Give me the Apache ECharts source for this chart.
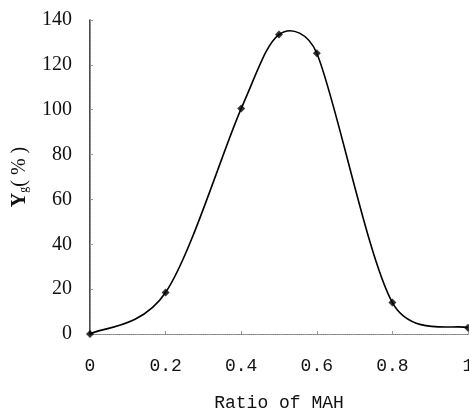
<!DOCTYPE html>
<html>
<head>
<meta charset="utf-8">
<script src="https://cdn.jsdelivr.net/npm/echarts@6/dist/echarts.min.js"></script>
<style>
  html, body { margin: 0; padding: 0; background: #fff; }
  #chart { width: 469px; height: 412px; }
</style>
</head>
<body>
<div id="chart"></div>
<script>
// ratio of MAH vs Yg (%)
var ratios = [0, 0.2, 0.4, 0.5, 0.6, 0.8, 1];
var yieldG = [0, 18.5, 100.5, 133.5, 125.2, 14, 2.8];
var yTicks = [0, 20, 40, 60, 80, 100, 120, 140];

var chart = echarts.init(document.getElementById('chart'));

var points = ratios.map(function (r, i) { return [r, yieldG[i]]; });
// one segment per pair of neighbouring points
var segments = points.slice(0, -1);

function dist(a, b) {
    return Math.sqrt((a[0] - b[0]) * (a[0] - b[0]) + (a[1] - b[1]) * (a[1] - b[1]));
}

// smoothed line like the spreadsheet one: catmull-rom in pixel space,
// control points kept within half of the segment length
function renderSegment(params, api) {
    var i = params.dataIndex;
    var n = points.length;
    var p0 = api.coord(points[Math.max(i - 1, 0)]);
    var p1 = api.coord(points[i]);
    var p2 = api.coord(points[i + 1]);
    var p3 = api.coord(points[Math.min(i + 2, n - 1)]);
    var d12 = dist(p1, p2), d02 = dist(p0, p2), d13 = dist(p1, p3);
    var f1 = (d02 / 6 < d12 / 2) ? 1 / 6 : d12 / (2 * d02);
    var f2 = (d13 / 6 < d12 / 2) ? 1 / 6 : d12 / (2 * d13);
    return {
        type: 'bezierCurve',
        shape: {
            x1: p1[0], y1: p1[1],
            x2: p2[0], y2: p2[1],
            cpx1: p1[0] + (p2[0] - p0[0]) * f1,
            cpy1: p1[1] + (p2[1] - p0[1]) * f1,
            cpx2: p2[0] - (p3[0] - p1[0]) * f2,
            cpy2: p2[1] - (p3[1] - p1[1]) * f2
        },
        style: { stroke: '#000', fill: 'none', lineWidth: 1.6 }
    };
}

chart.setOption({
    animation: false,
    backgroundColor: '#fff',
    grid: { left: 90, right: 1, top: 20, bottom: 78, outerBoundsMode: 'none' },
    xAxis: [{
        type: 'value',
        min: 0, max: 1, interval: 0.2,
        name: 'Ratio of MAH',
        nameLocation: 'middle',
        nameGap: 60,
        nameTextStyle: { fontFamily: 'Liberation Mono', fontSize: 18, color: '#111' },
        axisLine: { show: true, lineStyle: { color: '#444', type: 'dotted', width: 1.2 } },
        axisTick: { show: true, inside: true, length: 3, lineStyle: { color: '#999' } },
        axisLabel: {
            margin: 23,
            fontFamily: 'Liberation Mono', fontSize: 18, color: '#111',
            formatter: function (v) { return (v === 0 || v === 1) ? String(v) : v.toFixed(1); }
        },
        splitLine: { show: false }
    }, {
        type: 'value', position: 'top',
        min: 0, max: 1,
        axisLine: { show: true, lineStyle: { color: '#999', type: 'dotted' } },
        axisTick: { show: false }, axisLabel: { show: false }, splitLine: { show: false }
    }],
    yAxis: [{
        type: 'value',
        min: 0, max: 140, interval: 20,
        name: '{y|Y}{s|g}{p|( % )}',
        nameLocation: 'middle',
        nameRotate: 90,
        nameGap: 60,
        nameTextStyle: {
            rich: {
                y: { fontFamily: 'Liberation Serif', fontWeight: 'bold', fontSize: 20, color: '#111' },
                s: { fontFamily: 'Liberation Serif', fontSize: 12, color: '#111', padding: [8, 0, 0, 0] },
                p: { fontFamily: 'Liberation Serif', fontSize: 20, color: '#111' }
            }
        },
        axisLine: { show: true, lineStyle: { color: '#111', width: 1.5 } },
        axisTick: { show: true, inside: true, length: 3, lineStyle: { color: '#999' } },
        axisLabel: {
            margin: 18,
            fontFamily: 'Liberation Serif', fontSize: 20, color: '#111',
            customValues: yTicks
        },
        splitLine: { show: false }
    }, {
        type: 'value', position: 'right',
        min: 0, max: 140,
        axisLine: { show: true, lineStyle: { color: '#999', type: 'dotted' } },
        axisTick: { show: false }, axisLabel: { show: false }, splitLine: { show: false }
    }],
    series: [{
        type: 'custom',
        data: segments,
        renderItem: renderSegment,
        clip: false,
        silent: true
    }, {
        type: 'scatter',
        data: points,
        symbol: 'diamond',
        symbolSize: 8,
        itemStyle: { color: '#000' }
    }]
});
</script>
</body>
</html>
